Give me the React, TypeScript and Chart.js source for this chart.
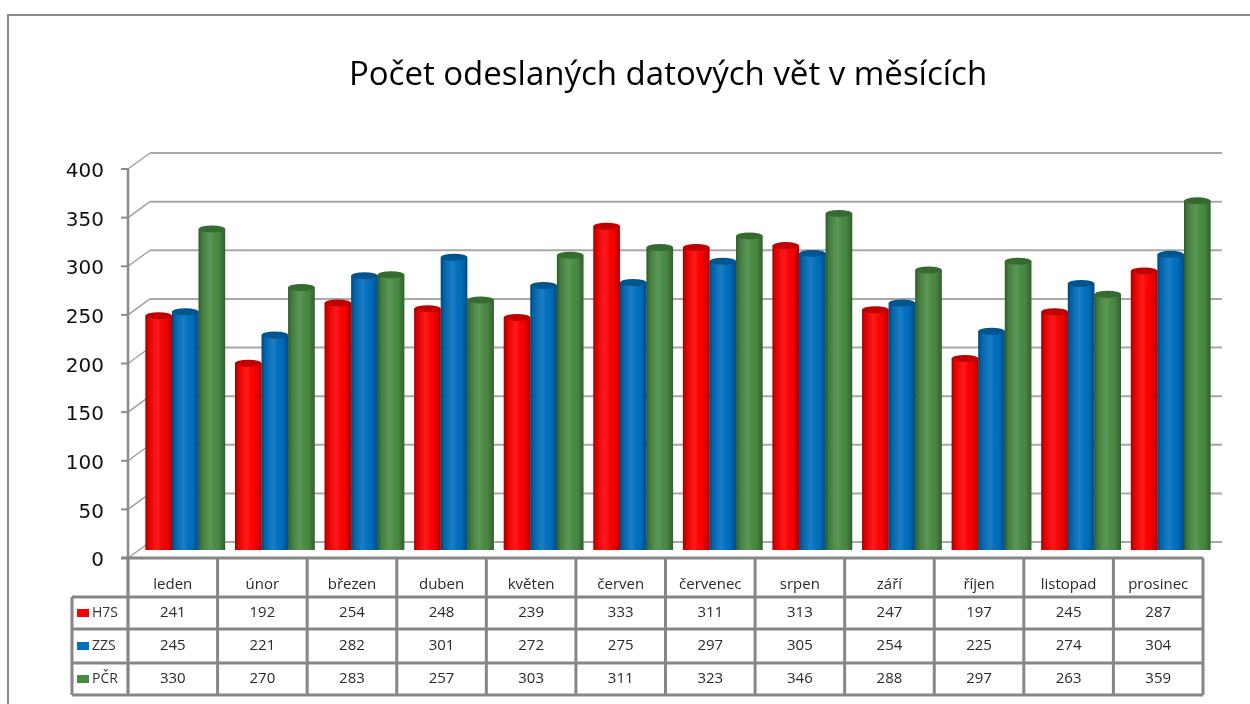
import React, { useEffect, useRef } from "react";
import { Chart, registerables } from "chart.js";

Chart.register(...registerables);

const TITLE = "Počet odeslaných datových vět v měsících";
const months = ["leden", "únor", "březen", "duben", "květen", "červen", "červenec", "srpen", "září", "říjen", "listopad", "prosinec"];
const seriesNames = ["H7S", "ZZS", "PČR"];
const h7s = [241, 192, 254, 248, 239, 333, 311, 313, 247, 197, 245, 287];
const zzs = [245, 221, 282, 301, 272, 275, 297, 305, 254, 225, 274, 304];
const pcr = [330, 270, 283, 257, 303, 311, 323, 346, 288, 297, 263, 359];
const yTicks = [0, 50, 100, 150, 200, 250, 300, 350, 400];
const seriesColors = ["#FF0000", "#0070C0", "#4A8C44"];
const capColors = ["#C00000", "#00558F", "#356A31"];

const HALF_DX = 12.5; // horizontal depth shift from front plane to bar plane
const DX = 22;
const DY = 8;

const excel3d = {
  id: "excel3d",
  beforeDraw(chart: any) {
    const { ctx, chartArea: ca, scales } = chart;
    const y = scales.y;
    ctx.save();
    ctx.fillStyle = "#ffffff";
    ctx.fillRect(0, 0, chart.width, chart.height);
    // outer frame
    ctx.strokeStyle = "#8a8a8a";
    ctx.lineWidth = 2;
    ctx.beginPath();
    ctx.moveTo(8, 720);
    ctx.lineTo(8, 15);
    ctx.lineTo(1260, 15);
    ctx.stroke();
    // title
    ctx.fillStyle = "#000";
    ctx.font = '33px "Open Sans"';
    ctx.textAlign = "center";
    ctx.textBaseline = "middle";
    ctx.fillText(TITLE, 668, 76);

    const frontL = ca.left - HALF_DX;
    const backL = frontL + DX;
    const backR = ca.right + 6.5;
    // back wall gridlines
    for (const v of yTicks) {
      const yp = y.getPixelForValue(v);
      ctx.strokeStyle = "#a8a8a8";
      ctx.lineWidth = 2;
      ctx.beginPath();
      ctx.moveTo(backL, yp - DY);
      ctx.lineTo(backR, yp - DY);
      ctx.stroke();
      ctx.strokeStyle = "#a0a0a0";
      ctx.lineWidth = 1.5;
      ctx.beginPath();
      ctx.moveTo(frontL, yp + DY);
      ctx.lineTo(backL, yp - DY);
      ctx.stroke();
      // tick
      ctx.strokeStyle = "#8a8a8a";
      ctx.lineWidth = 2;
      ctx.beginPath();
      ctx.moveTo(frontL - 7, yp + DY);
      ctx.lineTo(frontL, yp + DY);
      ctx.stroke();
      ctx.fillStyle = "#111";
      ctx.font = '20px "DejaVu Sans"';
      ctx.textAlign = "right";
      ctx.textBaseline = "middle";
      ctx.fillText(String(v), frontL - 24, yp + DY + 3);
    }
    // front axis line
    ctx.strokeStyle = "#8a8a8a";
    ctx.lineWidth = 2.5;
    ctx.beginPath();
    ctx.moveTo(frontL, y.getPixelForValue(400) + DY);
    ctx.lineTo(frontL, 695);
    ctx.stroke();
    ctx.restore();
  },
  afterDatasetsDraw(chart: any) {
    const { ctx } = chart;
    ctx.save();
    chart.data.datasets.forEach((ds: any, di: number) => {
      const meta = chart.getDatasetMeta(di);
      meta.data.forEach((bar: any) => {
        const { x, y, base, width } = bar.getProps(["x", "y", "base", "width"], true);
        const l = x - width / 2;
        const g = ctx.createLinearGradient(l, 0, l + width, 0);
        g.addColorStop(0, "rgba(0,0,0,0.38)");
        g.addColorStop(0.12, "rgba(0,0,0,0.12)");
        g.addColorStop(0.45, "rgba(255,255,255,0.10)");
        g.addColorStop(0.75, "rgba(0,0,0,0.02)");
        g.addColorStop(1, "rgba(0,0,0,0.32)");
        ctx.fillStyle = g;
        ctx.fillRect(l, y, width, base - y);
        // top cap
        ctx.fillStyle = capColors[di];
        ctx.beginPath();
        ctx.ellipse(x, y, width / 2, 3.5, 0, 0, Math.PI * 2);
        ctx.fill();
      });
    });
    ctx.restore();
  },
  afterDraw(chart: any) {
    const { ctx, chartArea: ca, scales } = chart;
    const x = scales.x;
    const tableL = ca.left - HALF_DX;
    const colW = (ca.right - ca.left) / months.length;
    const tableR = tableL + colW * months.length;
    const rowsY = [558, 597, 629, 663, 695];
    const legendL = 72;
    ctx.save();
    ctx.strokeStyle = "#868686";
    ctx.lineWidth = 3;
    ctx.beginPath();
    ctx.moveTo(tableL - 7, rowsY[0]);
    ctx.lineTo(tableR, rowsY[0]);
    for (let r = 1; r < rowsY.length; r++) {
      ctx.moveTo(legendL, rowsY[r]);
      ctx.lineTo(tableR, rowsY[r]);
    }
    for (let i = 0; i <= months.length; i++) {
      const xx = tableL + i * colW;
      ctx.moveTo(xx, rowsY[0]);
      ctx.lineTo(xx, rowsY[4]);
    }
    ctx.moveTo(legendL, rowsY[1]);
    ctx.lineTo(legendL, rowsY[4]);
    ctx.stroke();

    ctx.fillStyle = "#2a2a2a";
    ctx.font = '15px "Open Sans"';
    ctx.textAlign = "center";
    ctx.textBaseline = "middle";
    const series = [h7s, zzs, pcr];
    months.forEach((m, i) => {
      const cx = x.getPixelForValue(i) - HALF_DX;
      ctx.fillText(m, cx, 585);
      series.forEach((s, si) => {
        ctx.fillText(String(s[i]), cx, (rowsY[si + 1] + rowsY[si + 2]) / 2);
      });
    });
    // legend keys
    seriesNames.forEach((n, si) => {
      const cy = (rowsY[si + 1] + rowsY[si + 2]) / 2;
      ctx.fillStyle = seriesColors[si];
      ctx.fillRect(77, cy - 4, 12, 8);
      ctx.fillStyle = "#333";
      ctx.font = '14px "Open Sans"';
      ctx.textAlign = "left";
      ctx.fillText(n, 92, cy);
    });
    ctx.restore();
  },
};

export default function App() {
  const ref = useRef<HTMLCanvasElement | null>(null);
  useEffect(() => {
    if (!ref.current) return;
    const chart = new Chart(ref.current, {
      type: "bar",
      data: {
        labels: months,
        datasets: [h7s, zzs, pcr].map((d, i) => ({
          label: seriesNames[i],
          data: d,
          backgroundColor: seriesColors[i],
          borderWidth: 0,
          categoryPercentage: 0.89,
          barPercentage: 1,
        })),
      },
      options: {
        responsive: false,
        animation: false,
        layout: { padding: { left: 140.5, right: 34.5, top: 161, bottom: 154 } },
        scales: {
          x: { display: false, offset: true },
          y: { display: false, min: 0, max: 400 },
        },
        plugins: { legend: { display: false }, tooltip: { enabled: false }, title: { display: false } },
      },
      plugins: [excel3d],
    });
    return () => chart.destroy();
  }, []);
  return (
    <div style={{ position: "fixed", left: 0, top: 0, width: 1250, height: 704, background: "#fff" }}>
      <canvas ref={ref} width={1250} height={704} style={{ display: "block" }} />
    </div>
  );
}
